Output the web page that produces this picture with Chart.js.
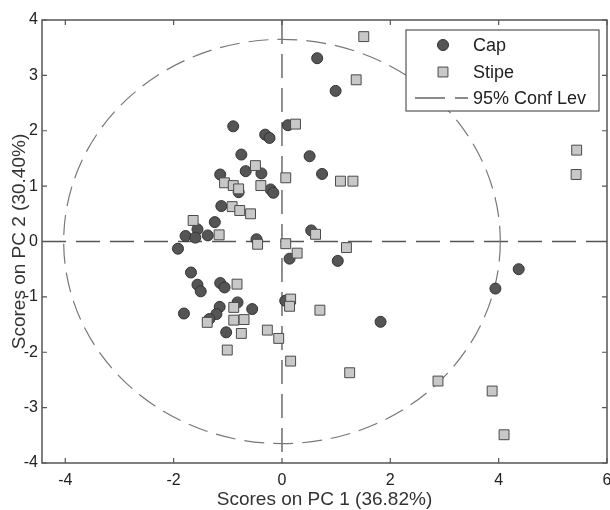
<!DOCTYPE html>
<html>
<head>
<meta charset="utf-8">
<script src="https://cdn.jsdelivr.net/npm/chart.js@4.4.0/dist/chart.umd.min.js"></script>
<style>
  html,body{margin:0;padding:0;background:#fff}
  #wrap{width:610px;height:510px}
</style>
</head>
<body>
<div id="wrap"><canvas id="pca"></canvas></div>
<script>
// PCA scores
const capX = [-0.90,-0.31,-0.23,0.11,-0.75,-1.14,-0.67,-0.38,-0.80,-0.21,-0.16,-1.12,-1.24,-1.56,-1.78,-1.60,-1.37,-0.47,-1.92,0.14,-1.68,-1.56,-1.50,-1.14,-1.06,-1.81,-1.15,-0.82,-0.55,-1.21,-1.34,-1.03,0.06,0.65,0.99,0.51,0.74,0.54,1.03,1.82,3.94,4.37];
const capY = [2.08,1.93,1.87,2.10,1.57,1.21,1.27,1.23,0.89,0.94,0.88,0.64,0.35,0.22,0.10,0.07,0.11,0.04,-0.13,-0.31,-0.56,-0.78,-0.90,-0.75,-0.83,-1.30,-1.18,-1.10,-1.22,-1.31,-1.40,-1.64,-1.07,3.31,2.72,1.54,1.22,0.20,-0.35,-1.45,-0.85,-0.50];
const stipeX = [0.25,-0.49,-1.06,-0.90,-0.80,-0.39,0.07,-0.92,-0.78,-0.58,-1.64,-1.16,-0.45,0.07,0.28,0.62,1.19,1.08,1.31,1.37,1.51,5.44,5.43,-0.83,-0.89,-1.38,-0.89,-0.70,-0.75,-0.27,-0.06,-1.01,0.16,0.14,0.16,0.70,1.25,2.88,3.88,4.10];
const stipeY = [2.12,1.37,1.06,1.01,0.95,1.01,1.15,0.63,0.56,0.50,0.38,0.12,-0.05,-0.04,-0.21,0.13,-0.11,1.09,1.09,2.92,3.70,1.65,1.21,-0.77,-1.19,-1.46,-1.42,-1.41,-1.66,-1.60,-1.75,-1.96,-1.04,-1.17,-2.16,-1.24,-2.37,-2.52,-2.70,-3.49];
const xTicks = [-4,-2,0,2,4,6];
const yTicks = [-4,-3,-2,-1,0,1,2,3,4];
const confCenter = [0,0];
const confRadius = [4.03,3.65];
const seriesLabels = ['Cap','Stipe','95% Conf Lev'];

const FONT = "'Liberation Sans', Arial, sans-serif";

function toPoints(xs, ys){
  return xs.map((v,i)=>({x:v, y:ys[i]}));
}

const decor = {
  id:'decor',
  beforeDatasetsDraw(chart){
    const {ctx, chartArea:a, scales:{x,y}} = chart;
    ctx.save();
    // zero lines
    const x0 = x.getPixelForValue(0), y0 = y.getPixelForValue(0);
    ctx.strokeStyle = '#555';
    ctx.lineWidth = 1.3;
    ctx.setLineDash([24,10]);
    ctx.beginPath();
    ctx.moveTo(x0, a.top); ctx.lineTo(x0, a.bottom);
    ctx.moveTo(a.left, y0); ctx.lineTo(a.right, y0);
    ctx.stroke();
    // confidence ellipse
    const cx = x.getPixelForValue(confCenter[0]), cy = y.getPixelForValue(confCenter[1]);
    const rx = Math.abs(x.getPixelForValue(confCenter[0]+confRadius[0]) - cx);
    const ry = Math.abs(y.getPixelForValue(confCenter[1]+confRadius[1]) - cy);
    ctx.strokeStyle = '#777';
    ctx.lineWidth = 1.2;
    ctx.setLineDash([20,9]);
    ctx.beginPath();
    ctx.ellipse(cx, cy, rx, ry, 0, 0, Math.PI*2);
    ctx.stroke();
    ctx.restore();
  },
  afterDraw(chart){
    const {ctx, chartArea:a, scales:{x,y}} = chart;
    ctx.save();
    // box + inward ticks on all sides
    ctx.strokeStyle = '#555';
    ctx.lineWidth = 1.5;
    ctx.strokeRect(a.left, a.top, a.right-a.left, a.bottom-a.top);
    ctx.lineWidth = 1.2;
    ctx.beginPath();
    x.ticks.forEach(t=>{
      const px = x.getPixelForValue(t.value);
      ctx.moveTo(px, a.bottom); ctx.lineTo(px, a.bottom-5);
      ctx.moveTo(px, a.top); ctx.lineTo(px, a.top+5);
    });
    y.ticks.forEach(t=>{
      const py = y.getPixelForValue(t.value);
      ctx.moveTo(a.left, py); ctx.lineTo(a.left+5, py);
      ctx.moveTo(a.right, py); ctx.lineTo(a.right-5, py);
    });
    ctx.stroke();

    // legend
    const L = {x:406, y:30, w:193, h:81};
    ctx.fillStyle = '#fff';
    ctx.fillRect(L.x, L.y, L.w, L.h);
    ctx.strokeStyle = '#555';
    ctx.lineWidth = 1.2;
    ctx.strokeRect(L.x, L.y, L.w, L.h);
    const ds = chart.data.datasets;
    const rows = [45, 72, 98];
    ctx.font = '18px ' + FONT;
    ctx.textBaseline = 'middle';
    ctx.textAlign = 'left';
    ds.forEach((d,i)=>{
      ctx.fillStyle = d.backgroundColor; ctx.strokeStyle = d.borderColor; ctx.lineWidth = d.borderWidth;
      ctx.beginPath();
      if(d.pointStyle === 'circle'){
        ctx.arc(443, rows[i], d.pointRadius, 0, Math.PI*2);
      } else {
        const s = d.pointRadius*Math.SQRT1_2;
        ctx.rect(443-s, rows[i]-s, 2*s, 2*s);
      }
      ctx.fill(); ctx.stroke();
      ctx.fillStyle = '#222';
      ctx.fillText(d.label, 473, rows[i]+1);
    });
    ctx.strokeStyle = '#666';
    ctx.lineWidth = 1.4;
    ctx.setLineDash([30,10]);
    ctx.beginPath();
    ctx.moveTo(415, rows[2]); ctx.lineTo(468, rows[2]);
    ctx.stroke();
    ctx.setLineDash([]);
    ctx.fillText(seriesLabels[2], 473, rows[2]+1);
    ctx.restore();
  }
};

new Chart(document.getElementById('pca'), {
  type:'scatter',
  data:{
    datasets:[
      {label:seriesLabels[0], data:toPoints(capX, capY), pointStyle:'circle', pointRadius:5.5,
       backgroundColor:'#555', borderColor:'#333', borderWidth:1, order:1},
      {label:seriesLabels[1], data:toPoints(stipeX, stipeY), pointStyle:'rect', pointRadius:7,
       backgroundColor:'#c8c8c8', borderColor:'#4a4a4a', borderWidth:1, order:0}
    ]
  },
  options:{
    responsive:true,
    maintainAspectRatio:false,
    animation:false,
    events:[],
    layout:{padding:{left:0, top:20, right:3, bottom:0}, autoPadding:false},
    plugins:{legend:{display:false}, tooltip:{enabled:false}},
    scales:{
      x:{
        type:'linear', min:-4.43, max:6,
        grid:{display:false, drawTicks:false},
        border:{display:false},
        afterBuildTicks:s=>{ s.ticks = xTicks.map(v=>({value:v})); },
        afterFit:s=>{ s.height = 47; s.paddingLeft = 0; s.paddingRight = 0; },
        ticks:{color:'#222', padding:8, font:{family:FONT, size:16}, maxRotation:0, autoSkip:false},
        title:{display:true, text:'Scores on PC 1 (36.82%)', color:'#333',
               font:{family:FONT, size:19, lineHeight:1}, padding:{top:0, bottom:1}}
      },
      y:{
        type:'linear', min:-4, max:4,
        grid:{display:false, drawTicks:false},
        border:{display:false},
        afterBuildTicks:s=>{ s.ticks = yTicks.map(v=>({value:v})); },
        afterFit:s=>{ s.width = 42; s.paddingTop = 0; s.paddingBottom = 0; },
        ticks:{color:'#222', padding:4, font:{family:FONT, size:16}, autoSkip:false},
        title:{display:true, text:'Scores on PC 2 (30.40%)', color:'#333',
               font:{family:FONT, size:19, lineHeight:1}, padding:{top:10, bottom:0}}
      }
    }
  },
  plugins:[decor]
});
</script>
</body>
</html>
